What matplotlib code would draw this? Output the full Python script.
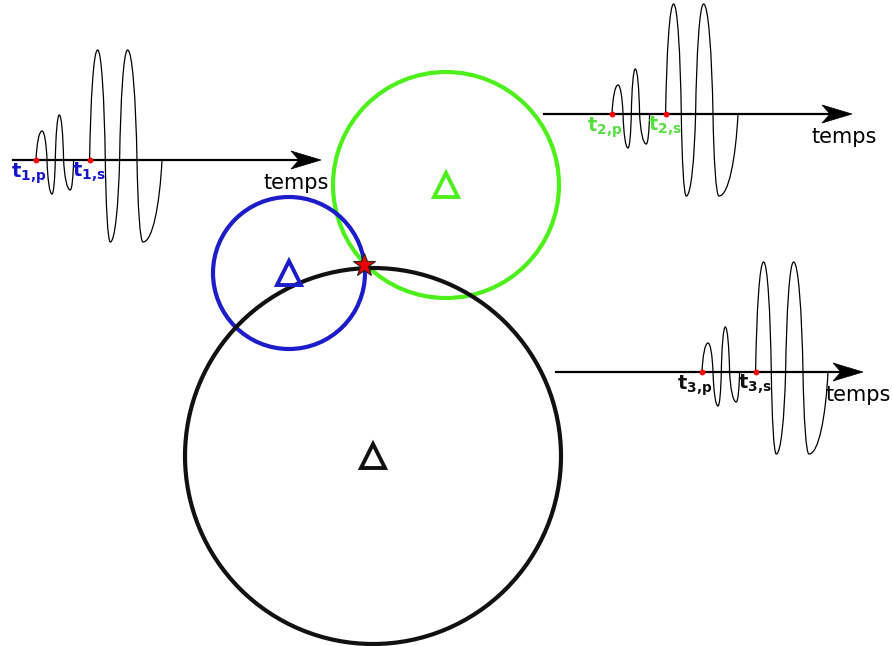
import matplotlib

matplotlib.use("Agg")
import matplotlib.pyplot as plt
from matplotlib.patches import Circle, PathPatch, Polygon
from matplotlib.path import Path

# stations: blue, green, black
station_x = [289, 446, 373]
station_y = [273, 185, 456]
radius = [76, 113, 188]
colors = ["#1c1cc8", "#4ef01c", "#111111"]
label_colors = ["#1414c8", "#55e040", "#111111"]
source_xy = (364, 265)

# seismograms: P arrival, axis level, axis start/end (page pixels)
p_onset = [36, 612, 702]
axis_y = [160, 114, 372]
axis_start = [13, 544, 556]
axis_tip = [321, 852, 863]
temps_x = [296, 844, 858]

# waveform shape relative to P onset: zero crossings and extrema
wave_dx = [0, 6, 11, 16, 19.3, 23.3, 27.6, 34.3, 37.6, 53.6, 61.6, 69.3, 74.3, 83.6, 91.6, 101, 107, 126]
wave_amp = [0, 29, 0, -34, 0, 45, 0, -30, 0, 0, 110, 0, -82, 0, 110, 0, -82, 0]
s_delay = 53.6


def wave_path(x0, y0):
    verts = [(x0, y0)]
    codes = [Path.MOVETO]
    for i in range(1, len(wave_dx)):
        xa, xb = x0 + wave_dx[i - 1], x0 + wave_dx[i]
        aa, ab = wave_amp[i - 1], wave_amp[i]
        w = xb - xa
        if aa == 0 and ab == 0:
            verts.append((xb, y0))
            codes.append(Path.LINETO)
            continue
        if aa == 0:
            c1 = (xa + 0.12 * w, y0 - 0.55 * ab)
            c2 = (xa + 0.5 * w, y0 - ab)
        else:
            c1 = (xa + 0.5 * w, y0 - aa)
            c2 = (xa + 0.88 * w, y0 - 0.55 * aa)
        verts += [c1, c2, (xb, y0 - ab)]
        codes += [Path.CURVE4] * 3
    return Path(verts, codes)


fig = plt.figure(figsize=(8.92, 6.46), dpi=100)
ax = fig.add_axes([0, 0, 1, 1])
ax.set_xlim(0, 892)
ax.set_ylim(646, 0)
ax.axis("off")

for i in [1, 0, 2]:
    ax.add_patch(Circle((station_x[i], station_y[i]), radius[i], fill=False,
                        edgecolor=colors[i], lw=3, zorder=2))
for i in range(3):
    ax.plot(station_x[i], station_y[i], marker="^", ms=17, mfc="none",
            mec=colors[i], mew=2.8, zorder=3)
ax.plot(*source_xy, marker="*", ms=17, mfc="#ee0000", mec="#222222", mew=0.8, zorder=4)

for i in range(3):
    x0, y0 = p_onset[i], axis_y[i]
    ax.add_patch(PathPatch(wave_path(x0, y0), fill=False, edgecolor="black", lw=0.9, zorder=2))
    tip = axis_tip[i]
    ax.plot([axis_start[i], tip - 22], [y0, y0], color="black", lw=1.6, zorder=3)
    ax.add_patch(Polygon([(tip, y0), (tip - 30, y0 - 9), (tip - 22, y0), (tip - 30, y0 + 9)],
                         closed=True, facecolor="black", edgecolor="black", lw=0.5, zorder=3))
    ax.plot([x0, x0 + s_delay], [y0, y0], "o", color="red", ms=3.2, zorder=4)
    n = i + 1
    ax.text(x0 - 7, y0 + 1, rf"$\mathbf{{t}}_{{\mathbf{{{n}{{,}}p}}}}$", color=label_colors[i],
            fontsize=14, ha="center", va="top", zorder=5)
    ax.text(x0 + s_delay - 1, y0 + 1, rf"$\mathbf{{t}}_{{\mathbf{{{n}{{,}}s}}}}$", color=label_colors[i],
            fontsize=14, ha="center", va="top", zorder=5)
    ax.text(temps_x[i], y0 + 23, "temps", fontsize=15, ha="center", va="center", zorder=5)

fig.savefig("out.png", dpi=100, facecolor="white")
plt.close(fig)
